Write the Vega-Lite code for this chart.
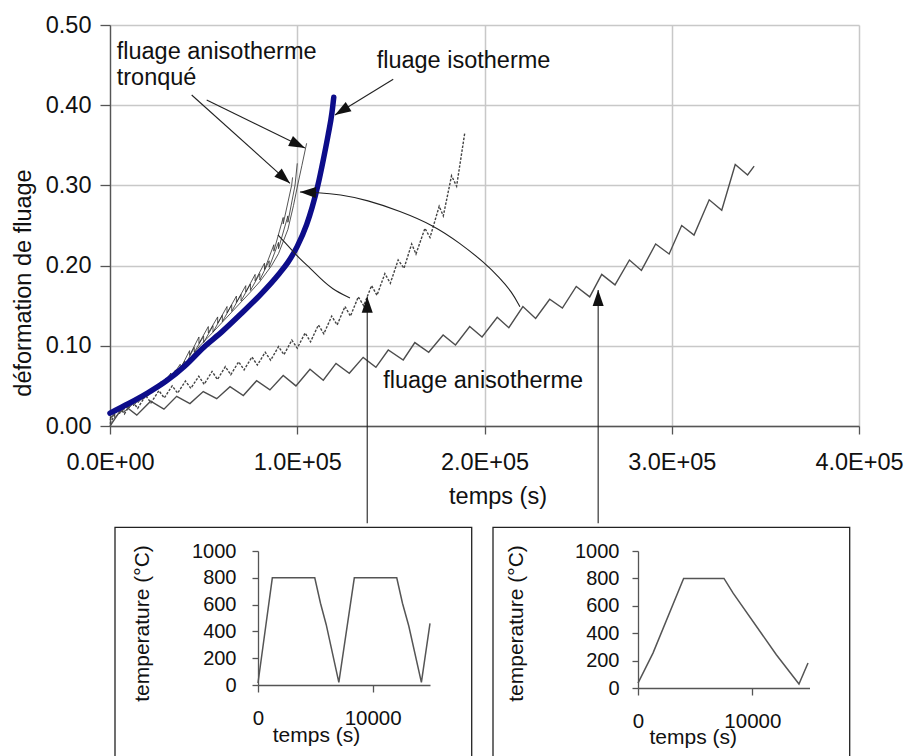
{
  "$schema": "https://vega.github.io/schema/vega-lite/v6.json",
  "padding": {"left": 11, "top": 13, "right": 0, "bottom": 0},
  "spacing": 0,
  "config": {
    "font": "Liberation Sans",
    "view": {"stroke": null},
    "axis": {"labelFont": "Liberation Sans", "titleFont": "Liberation Sans", "labelColor": "#111", "titleColor": "#111", "titleFontWeight": "normal", "domainColor": "#555", "tickColor": "#555", "domainWidth": 1.3, "tickWidth": 1.3, "grid": false, "labelFlush": false, "labelOverlap": false}
  },
  "datasets": {
    "iso": [
      {"t": 0, "e": 0.016}, {"t": 10000, "e": 0.028}, {"t": 20000, "e": 0.041}, {"t": 30000, "e": 0.056},
      {"t": 40000, "e": 0.075}, {"t": 50000, "e": 0.098}, {"t": 60000, "e": 0.118}, {"t": 70000, "e": 0.140},
      {"t": 80000, "e": 0.163}, {"t": 90000, "e": 0.189}, {"t": 95000, "e": 0.204}, {"t": 100000, "e": 0.224},
      {"t": 105000, "e": 0.251}, {"t": 108000, "e": 0.273}, {"t": 111000, "e": 0.300}, {"t": 114000, "e": 0.333},
      {"t": 116500, "e": 0.363}, {"t": 118500, "e": 0.390}, {"t": 119500, "e": 0.410}
    ],
    "aniso": [
      {"t": 0, "e": 0.000}, {"t": 7500, "e": 0.026}, {"t": 14300, "e": 0.0135}, {"t": 21700, "e": 0.031},
      {"t": 28800, "e": 0.021}, {"t": 35600, "e": 0.037}, {"t": 42700, "e": 0.028}, {"t": 49800, "e": 0.043},
      {"t": 57000, "e": 0.034}, {"t": 64100, "e": 0.049}, {"t": 71200, "e": 0.038}, {"t": 78300, "e": 0.0565},
      {"t": 85400, "e": 0.045}, {"t": 92500, "e": 0.063}, {"t": 99300, "e": 0.050}, {"t": 106800, "e": 0.0707},
      {"t": 113900, "e": 0.057}, {"t": 120700, "e": 0.078}, {"t": 127800, "e": 0.0657}, {"t": 135200, "e": 0.0856},
      {"t": 142000, "e": 0.0732}, {"t": 148600, "e": 0.0948}, {"t": 156600, "e": 0.0823}, {"t": 162800, "e": 0.104},
      {"t": 170200, "e": 0.092}, {"t": 177900, "e": 0.1135}, {"t": 184500, "e": 0.101}, {"t": 192100, "e": 0.124},
      {"t": 198700, "e": 0.111}, {"t": 206800, "e": 0.1355}, {"t": 213000, "e": 0.1226}, {"t": 220500, "e": 0.149},
      {"t": 227300, "e": 0.134}, {"t": 234800, "e": 0.158}, {"t": 241600, "e": 0.147}, {"t": 249000, "e": 0.174},
      {"t": 256200, "e": 0.161}, {"t": 262600, "e": 0.189}, {"t": 269700, "e": 0.176}, {"t": 277400, "e": 0.207},
      {"t": 283800, "e": 0.194}, {"t": 291400, "e": 0.227}, {"t": 298600, "e": 0.2145}, {"t": 305300, "e": 0.250},
      {"t": 311900, "e": 0.238}, {"t": 320000, "e": 0.282}, {"t": 326700, "e": 0.269}, {"t": 333900, "e": 0.326},
      {"t": 340500, "e": 0.313}, {"t": 344000, "e": 0.324}
    ],
    "dash": [
      {"t": 0, "e": 0.003}, {"t": 4800, "e": 0.024}, {"t": 7700, "e": 0.015}, {"t": 11900, "e": 0.031},
      {"t": 14800, "e": 0.022}, {"t": 19000, "e": 0.038}, {"t": 21900, "e": 0.029}, {"t": 26100, "e": 0.044},
      {"t": 29000, "e": 0.035}, {"t": 33200, "e": 0.050}, {"t": 36100, "e": 0.041}, {"t": 40300, "e": 0.056},
      {"t": 43200, "e": 0.047}, {"t": 47400, "e": 0.062}, {"t": 50300, "e": 0.052}, {"t": 54500, "e": 0.068},
      {"t": 57400, "e": 0.058}, {"t": 61600, "e": 0.074}, {"t": 64500, "e": 0.064}, {"t": 68700, "e": 0.080},
      {"t": 71600, "e": 0.070}, {"t": 75800, "e": 0.086}, {"t": 78700, "e": 0.076}, {"t": 82900, "e": 0.092},
      {"t": 85800, "e": 0.082}, {"t": 90000, "e": 0.099}, {"t": 92900, "e": 0.089}, {"t": 97100, "e": 0.107},
      {"t": 100000, "e": 0.097}, {"t": 104200, "e": 0.116}, {"t": 107100, "e": 0.105}, {"t": 111300, "e": 0.126},
      {"t": 114200, "e": 0.115}, {"t": 118400, "e": 0.137}, {"t": 121300, "e": 0.126}, {"t": 125500, "e": 0.149},
      {"t": 128400, "e": 0.137}, {"t": 132600, "e": 0.161}, {"t": 135500, "e": 0.150}, {"t": 139700, "e": 0.175},
      {"t": 142600, "e": 0.163}, {"t": 146800, "e": 0.190}, {"t": 149700, "e": 0.178}, {"t": 153900, "e": 0.207},
      {"t": 157000, "e": 0.1966}, {"t": 161100, "e": 0.227}, {"t": 163400, "e": 0.2145}, {"t": 168200, "e": 0.2465},
      {"t": 170900, "e": 0.235}, {"t": 175800, "e": 0.274}, {"t": 178000, "e": 0.262}, {"t": 182400, "e": 0.312},
      {"t": 185100, "e": 0.299}, {"t": 189500, "e": 0.366}
    ],
    "tronq": [
      {"s": "T1", "i": 0, "t": 0, "e": 0.014}, {"s": "T1", "i": 1, "t": 10000, "e": 0.026}, {"s": "T1", "i": 2, "t": 20000, "e": 0.040},
      {"s": "T1", "i": 3, "t": 30000, "e": 0.056}, {"s": "T1", "i": 4, "t": 40000, "e": 0.076}, {"s": "T1", "i": 5, "t": 48000, "e": 0.100},
      {"s": "T1", "i": 6, "t": 55000, "e": 0.117}, {"s": "T1", "i": 7, "t": 65000, "e": 0.142}, {"s": "T1", "i": 8, "t": 75000, "e": 0.167},
      {"s": "T1", "i": 9, "t": 80000, "e": 0.180}, {"s": "T1", "i": 10, "t": 86300, "e": 0.200}, {"s": "T1", "i": 11, "t": 90000, "e": 0.215},
      {"s": "T1", "i": 12, "t": 95000, "e": 0.245}, {"s": "T1", "i": 13, "t": 98000, "e": 0.275}, {"s": "T1", "i": 14, "t": 100000, "e": 0.298},
      {"s": "T1", "i": 15, "t": 102500, "e": 0.325}, {"s": "T1", "i": 16, "t": 105000, "e": 0.3525},
      {"s": "T2", "i": 0, "t": 0, "e": 0.010},
      {"s": "T2", "i": 1, "t": 5000, "e": 0.021}, {"s": "T2", "i": 2, "t": 5000, "e": 0.015},
      {"s": "T2", "i": 3, "t": 10000, "e": 0.028}, {"s": "T2", "i": 4, "t": 10000, "e": 0.022},
      {"s": "T2", "i": 5, "t": 15000, "e": 0.035}, {"s": "T2", "i": 6, "t": 15000, "e": 0.029},
      {"s": "T2", "i": 7, "t": 20000, "e": 0.043}, {"s": "T2", "i": 8, "t": 20000, "e": 0.037},
      {"s": "T2", "i": 9, "t": 25000, "e": 0.051}, {"s": "T2", "i": 10, "t": 25000, "e": 0.045},
      {"s": "T2", "i": 11, "t": 30000, "e": 0.060}, {"s": "T2", "i": 12, "t": 30000, "e": 0.054},
      {"s": "T2", "i": 13, "t": 35000, "e": 0.070}, {"s": "T2", "i": 14, "t": 35000, "e": 0.064},
      {"s": "T2", "i": 15, "t": 40000, "e": 0.081}, {"s": "T2", "i": 16, "t": 40000, "e": 0.075},
      {"s": "T2", "i": 17, "t": 45000, "e": 0.098}, {"s": "T2", "i": 18, "t": 45000, "e": 0.092},
      {"s": "T2", "i": 19, "t": 50000, "e": 0.112}, {"s": "T2", "i": 20, "t": 50000, "e": 0.104},
      {"s": "T2", "i": 21, "t": 55000, "e": 0.125}, {"s": "T2", "i": 22, "t": 55000, "e": 0.117},
      {"s": "T2", "i": 23, "t": 60000, "e": 0.138}, {"s": "T2", "i": 24, "t": 60000, "e": 0.130},
      {"s": "T2", "i": 25, "t": 65000, "e": 0.151}, {"s": "T2", "i": 26, "t": 65000, "e": 0.143},
      {"s": "T2", "i": 27, "t": 70000, "e": 0.164}, {"s": "T2", "i": 28, "t": 70000, "e": 0.156},
      {"s": "T2", "i": 29, "t": 75000, "e": 0.177}, {"s": "T2", "i": 30, "t": 75000, "e": 0.169},
      {"s": "T2", "i": 31, "t": 80000, "e": 0.190}, {"s": "T2", "i": 32, "t": 80000, "e": 0.182},
      {"s": "T2", "i": 33, "t": 85000, "e": 0.206}, {"s": "T2", "i": 34, "t": 85000, "e": 0.198},
      {"s": "T2", "i": 35, "t": 90000, "e": 0.229}, {"s": "T2", "i": 36, "t": 90000, "e": 0.221},
      {"s": "T2", "i": 37, "t": 95000, "e": 0.262}, {"s": "T2", "i": 38, "t": 95000, "e": 0.254},
      {"s": "T2", "i": 39, "t": 98800, "e": 0.300}, {"s": "T2", "i": 40, "t": 100000, "e": 0.3275},
      {"s": "T3", "i": 0, "t": 0, "e": 0.008},
      {"s": "T3", "i": 1, "t": 2500, "e": 0.015}, {"s": "T3", "i": 2, "t": 2500, "e": 0.010},
      {"s": "T3", "i": 3, "t": 7500, "e": 0.023}, {"s": "T3", "i": 4, "t": 7500, "e": 0.017},
      {"s": "T3", "i": 5, "t": 12500, "e": 0.031}, {"s": "T3", "i": 6, "t": 12500, "e": 0.025},
      {"s": "T3", "i": 7, "t": 17500, "e": 0.039}, {"s": "T3", "i": 8, "t": 17500, "e": 0.033},
      {"s": "T3", "i": 9, "t": 22500, "e": 0.047}, {"s": "T3", "i": 10, "t": 22500, "e": 0.041},
      {"s": "T3", "i": 11, "t": 27500, "e": 0.056}, {"s": "T3", "i": 12, "t": 27500, "e": 0.050},
      {"s": "T3", "i": 13, "t": 32500, "e": 0.066}, {"s": "T3", "i": 14, "t": 32500, "e": 0.060},
      {"s": "T3", "i": 15, "t": 37500, "e": 0.077}, {"s": "T3", "i": 16, "t": 37500, "e": 0.071},
      {"s": "T3", "i": 17, "t": 42500, "e": 0.094}, {"s": "T3", "i": 18, "t": 42500, "e": 0.088},
      {"s": "T3", "i": 19, "t": 47500, "e": 0.111}, {"s": "T3", "i": 20, "t": 47500, "e": 0.103},
      {"s": "T3", "i": 21, "t": 52500, "e": 0.124}, {"s": "T3", "i": 22, "t": 52500, "e": 0.116},
      {"s": "T3", "i": 23, "t": 57500, "e": 0.136}, {"s": "T3", "i": 24, "t": 57500, "e": 0.128},
      {"s": "T3", "i": 25, "t": 62500, "e": 0.149}, {"s": "T3", "i": 26, "t": 62500, "e": 0.141},
      {"s": "T3", "i": 27, "t": 67500, "e": 0.162}, {"s": "T3", "i": 28, "t": 67500, "e": 0.154},
      {"s": "T3", "i": 29, "t": 72500, "e": 0.175}, {"s": "T3", "i": 30, "t": 72500, "e": 0.167},
      {"s": "T3", "i": 31, "t": 77500, "e": 0.189}, {"s": "T3", "i": 32, "t": 77500, "e": 0.181},
      {"s": "T3", "i": 33, "t": 82500, "e": 0.203}, {"s": "T3", "i": 34, "t": 82500, "e": 0.195},
      {"s": "T3", "i": 35, "t": 87500, "e": 0.226}, {"s": "T3", "i": 36, "t": 87500, "e": 0.218},
      {"s": "T3", "i": 37, "t": 92500, "e": 0.260}, {"s": "T3", "i": 38, "t": 92500, "e": 0.252},
      {"s": "T3", "i": 39, "t": 97000, "e": 0.300}, {"s": "T3", "i": 40, "t": 97500, "e": 0.310}
    ],
    "ann": [
      {"id": "A1", "i": 0, "t": 51630, "e": 0.4065}, {"id": "A1", "i": 1, "t": 104100, "e": 0.3466},
      {"id": "A2", "i": 0, "t": 43620, "e": 0.4127}, {"id": "A2", "i": 1, "t": 96100, "e": 0.3026},
      {"id": "A3", "i": 0, "t": 151260, "e": 0.4323}, {"id": "A3", "i": 1, "t": 120130, "e": 0.3878},
      {"id": "C1", "i": 0, "t": 101440, "e": 0.2918}, {"id": "C1", "i": 1, "t": 110520, "e": 0.2911},
      {"id": "C1", "i": 2, "t": 122800, "e": 0.2887}, {"id": "C1", "i": 3, "t": 137210, "e": 0.2818},
      {"id": "C1", "i": 4, "t": 154830, "e": 0.2681}, {"id": "C1", "i": 5, "t": 172450, "e": 0.2506},
      {"id": "C1", "i": 6, "t": 186870, "e": 0.2282}, {"id": "C1", "i": 7, "t": 200210, "e": 0.2032},
      {"id": "C1", "i": 8, "t": 208220, "e": 0.1845}, {"id": "C1", "i": 9, "t": 214630, "e": 0.1671},
      {"id": "C1", "i": 10, "t": 218900, "e": 0.1488},
      {"id": "C2", "i": 0, "t": 89700, "e": 0.2382}, {"id": "C2", "i": 1, "t": 96100, "e": 0.2219},
      {"id": "C2", "i": 2, "t": 101440, "e": 0.2082}, {"id": "C2", "i": 3, "t": 106780, "e": 0.1970},
      {"id": "C2", "i": 4, "t": 112120, "e": 0.1845}, {"id": "C2", "i": 5, "t": 118530, "e": 0.1708},
      {"id": "C2", "i": 6, "t": 128140, "e": 0.1596},
      {"id": "V1", "i": 0, "t": 137370, "e": 0.1612}, {"id": "V1", "i": 1, "t": 137370, "e": -0.1212},
      {"id": "V2", "i": 0, "t": 260700, "e": 0.1696}, {"id": "V2", "i": 1, "t": 260700, "e": -0.1212}
    ],
    "heads": [
      {"h": "A1", "t": 104100, "e": 0.3466},
      {"h": "A2", "t": 96100, "e": 0.3026},
      {"h": "A3", "t": 120130, "e": 0.3878},
      {"h": "C1", "t": 101440, "e": 0.2918},
      {"h": "V", "t": 137370, "e": 0.1612},
      {"h": "V", "t": 260700, "e": 0.1696}
    ],
    "notes": [
      {"txt": "fluage anisotherme", "t": 3580, "e": 0.4572},
      {"txt": "tronqué", "t": 3580, "e": 0.4252},
      {"txt": "fluage isotherme", "t": 142400, "e": 0.446},
      {"txt": "fluage anisotherme", "t": 145900, "e": 0.047}
    ],
    "cyc1": [
      {"t": 0, "T": 15}, {"t": 1250, "T": 800}, {"t": 4950, "T": 800}, {"t": 5450, "T": 610},
      {"t": 5950, "T": 450}, {"t": 7050, "T": 20}, {"t": 8400, "T": 800}, {"t": 12100, "T": 800},
      {"t": 12600, "T": 610}, {"t": 13150, "T": 440}, {"t": 14250, "T": 20}, {"t": 15000, "T": 460}
    ],
    "cyc2": [
      {"t": 0, "T": 36}, {"t": 1310, "T": 255}, {"t": 3990, "T": 800}, {"t": 7520, "T": 800},
      {"t": 8320, "T": 692}, {"t": 12100, "T": 243}, {"t": 14080, "T": 29}, {"t": 14870, "T": 182}
    ]
  },
  "vconcat": [
    {
      "width": 749,
      "height": 401,
      "encoding": {
        "x": {"field": "t", "type": "quantitative", "scale": {"domain": [0, 400000], "nice": false, "zero": false},
          "axis": {"values": [0, 100000, 200000, 300000, 400000],
            "labelExpr": "datum.value == 0 ? '0.0E+00' : format(datum.value / 100000, '.1f') + 'E+05'",
            "title": "temps (s)", "titleX": 387.5, "titleY": 77, "titleBaseline": "alphabetic", "titleAlign": "center",
            "titleFontSize": 23.5, "labelFontSize": 23.5, "labelPadding": 16, "tickSize": 8, "labelOverlap": false,
            "grid": true, "gridColor": "#c8c8c8", "gridWidth": 1.5}},
        "y": {"field": "e", "type": "quantitative", "scale": {"domain": [0, 0.5], "nice": false},
          "axis": {"values": [0, 0.1, 0.2, 0.3, 0.4, 0.5], "format": ".2f",
            "title": "déformation de fluage", "titleX": -87, "titleY": 257.5, "titleAngle": 270, "titleBaseline": "middle", "titleAlign": "center",
            "titleFontSize": 23.5, "labelFontSize": 23.5, "labelPadding": 9, "tickSize": 10, "labelOverlap": false,
            "grid": true, "gridColor": "#c8c8c8", "gridWidth": 1.5}}
      },
      "layer": [
        {"data": {"name": "tronq"}, "mark": {"type": "line", "color": "#2a2a2a", "strokeWidth": 0.8},
          "encoding": {"detail": {"field": "s"}, "order": {"field": "i", "type": "quantitative"}}},
        {"data": {"name": "dash"}, "mark": {"type": "line", "color": "#444", "strokeWidth": 1.4, "strokeDash": [2.5, 1.5]}, "encoding": {}},
        {"data": {"name": "aniso"}, "mark": {"type": "line", "color": "#4d4d4d", "strokeWidth": 1.4}, "encoding": {}},
        {"data": {"name": "iso"}, "mark": {"type": "line", "color": "#0d0d8a", "strokeWidth": 5.5, "strokeCap": "round", "interpolate": "monotone"}, "encoding": {}},
        {"data": {"name": "ann"}, "mark": {"type": "line", "color": "#222", "strokeWidth": 1.1, "interpolate": "basis", "clip": false},
          "encoding": {"detail": {"field": "id"}, "order": {"field": "i", "type": "quantitative"}}},
        {"data": {"name": "heads"}, "transform": [{"filter": "datum.h == 'A1'"}],
          "mark": {"type": "point", "shape": "M0,0L0.69,2L-0.69,2Z", "size": 256, "filled": true, "color": "#111", "opacity": 1, "strokeWidth": 0, "angle": 116, "clip": false}},
        {"data": {"name": "heads"}, "transform": [{"filter": "datum.h == 'A2'"}],
          "mark": {"type": "point", "shape": "M0,0L0.69,2L-0.69,2Z", "size": 256, "filled": true, "color": "#111", "opacity": 1, "strokeWidth": 0, "angle": 132, "clip": false}},
        {"data": {"name": "heads"}, "transform": [{"filter": "datum.h == 'A3'"}],
          "mark": {"type": "point", "shape": "M0,0L0.69,2L-0.69,2Z", "size": 256, "filled": true, "color": "#111", "opacity": 1, "strokeWidth": 0, "angle": 238.5, "clip": false}},
        {"data": {"name": "heads"}, "transform": [{"filter": "datum.h == 'C1'"}],
          "mark": {"type": "point", "shape": "M0,0L0.69,2L-0.69,2Z", "size": 256, "filled": true, "color": "#111", "opacity": 1, "strokeWidth": 0, "angle": 272, "clip": false}},
        {"data": {"name": "heads"}, "transform": [{"filter": "datum.h == 'V'"}],
          "mark": {"type": "point", "shape": "M0,0L0.69,2L-0.69,2Z", "size": 256, "filled": true, "color": "#111", "opacity": 1, "strokeWidth": 0, "angle": 0, "clip": false}},
        {"data": {"name": "notes"}, "mark": {"type": "text", "align": "left", "baseline": "alphabetic", "fontSize": 23.5, "color": "#111"},
          "encoding": {"text": {"field": "txt"}}}
      ]
    },
    {
      "spacing": 0,
      "hconcat": [
        {
          "width": 1,
          "height": 20,
          "data": {"values": [{}]},
          "mark": {"type": "point", "opacity": 0}
        },
        {
          "spacing": 19,
          "hconcat": [
            {
              "width": 172,
              "height": 134,
              "resolve": {"axis": {"x": "independent", "y": "independent"}},
              "layer": [
                {"data": {"values": [{}]}, "mark": {"type": "rect", "filled": false, "color": "#222", "strokeWidth": 1.3, "clip": false},
                  "encoding": {"x": {"datum": -12471, "type": "quantitative", "axis": null}, "x2": {"datum": 18637},
                    "y": {"datum": 1176, "type": "quantitative", "axis": null}, "y2": {"datum": -871}}},
                {"data": {"name": "cyc1"}, "mark": {"type": "line", "color": "#555", "strokeWidth": 1.5},
                  "encoding": {
                    "x": {"field": "t", "type": "quantitative", "scale": {"domain": [0, 15000], "nice": false},
                      "axis": {"values": [0, 10000], "format": "d", "title": "temps (s)", "titleX": 58, "titleY": 56, "titleBaseline": "alphabetic", "titleAlign": "center",
                        "titleFontSize": 21, "labelFontSize": 20.5, "labelPadding": 16.5, "tickSize": 7, "labelOverlap": false}},
                    "y": {"field": "T", "type": "quantitative", "scale": {"domain": [0, 1000], "nice": false},
                      "axis": {"values": [0, 200, 400, 600, 800, 1000], "format": "d", "title": "temperature (°C)", "titleX": -116, "titleY": 72, "titleAngle": 270, "titleBaseline": "middle", "titleAlign": "center",
                        "titleFontSize": 21, "labelFontSize": 20, "labelPadding": 16, "tickSize": 6, "labelOverlap": false, "labelBound": false}}
                  }}
              ]
            },
            {
              "width": 171.5,
              "height": 137,
              "resolve": {"axis": {"x": "independent", "y": "independent"}},
              "layer": [
                {"data": {"values": [{}]}, "mark": {"type": "rect", "filled": false, "color": "#222", "strokeWidth": 1.3, "clip": false},
                  "encoding": {"x": {"datum": -12682, "type": "quantitative", "axis": null}, "x2": {"datum": 18516},
                    "y": {"datum": 1172, "type": "quantitative", "axis": null}, "y2": {"datum": -830}}},
                {"data": {"name": "cyc2"}, "mark": {"type": "line", "color": "#555", "strokeWidth": 1.5},
                  "encoding": {
                    "x": {"field": "t", "type": "quantitative", "scale": {"domain": [0, 15000], "nice": false},
                      "axis": {"values": [0, 10000], "format": "d", "title": "temps (s)", "titleX": 54.7, "titleY": 55, "titleBaseline": "alphabetic", "titleAlign": "center",
                        "titleFontSize": 21, "labelFontSize": 20.5, "labelPadding": 16.5, "tickSize": 7, "labelOverlap": false}},
                    "y": {"field": "T", "type": "quantitative", "scale": {"domain": [0, 1000], "nice": false},
                      "axis": {"values": [0, 200, 400, 600, 800, 1000], "format": "d", "title": "temperature (°C)", "titleX": -122, "titleY": 72, "titleAngle": 270, "titleBaseline": "middle", "titleAlign": "center",
                        "titleFontSize": 21, "labelFontSize": 20, "labelPadding": 13, "tickSize": 6, "labelOverlap": false, "labelBound": false}}
                  }}
              ]
            }
          ]
        }
      ]
    }
  ]
}
